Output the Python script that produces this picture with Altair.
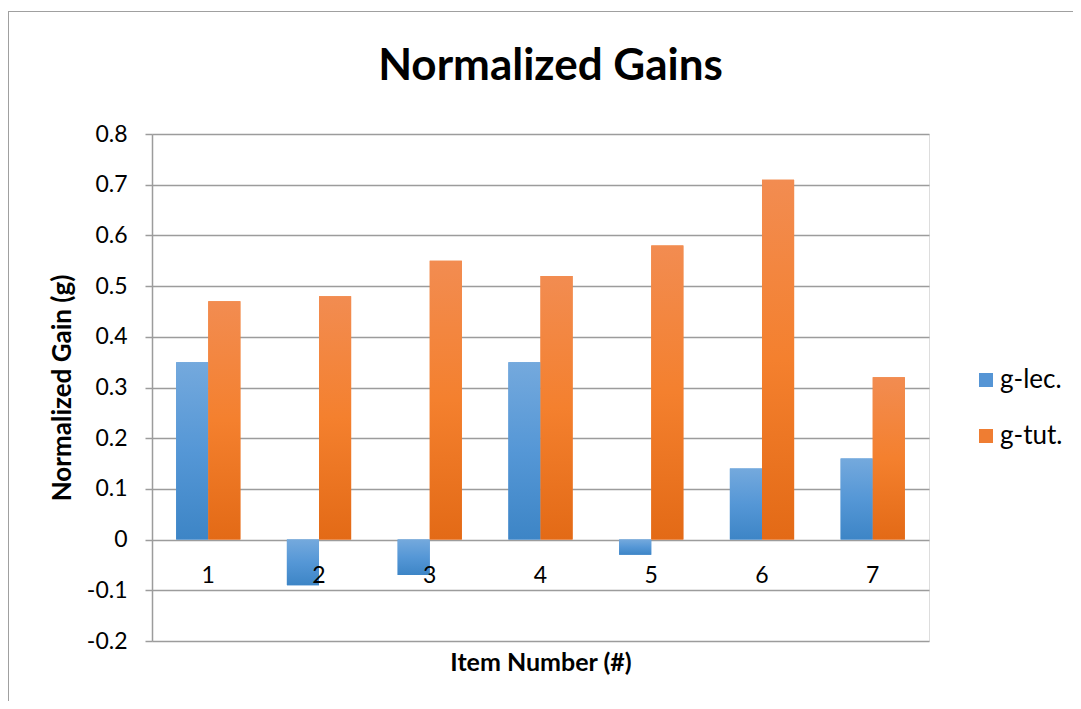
import altair as alt
import pandas as pd

title_text = ["Normalized Gains"]
items = ["1", "2", "3", "4", "5", "6", "7"]
series = ["g-lec.", "g-tut."]
g_lec = [0.35, -0.09, -0.07, 0.35, -0.03, 0.14, 0.16]
g_tut = [0.47, 0.48, 0.55, 0.52, 0.58, 0.71, 0.32]
y_ticks = [-0.2, -0.1, 0.0, 0.1, 0.2, 0.3, 0.4, 0.5, 0.6, 0.7, 0.8]

rows = []
for i, it in enumerate(items):
    rows.append({"item": it, "series": series[0], "value": g_lec[i]})
    rows.append({"item": it, "series": series[1], "value": g_tut[i]})
df = pd.DataFrame(rows)
lab_df = pd.DataFrame({"item": items})
title_df = pd.DataFrame({"t": title_text})

FONT = "Lato"
GRID = "#9c9c9c"

x_enc = alt.X("item:N", sort=items,
              scale=alt.Scale(paddingInner=0.42, paddingOuter=0.218),
              axis=alt.Axis(labels=False, ticks=False, domain=False, grid=False,
                            title="Item Number (#)", titleFont=FONT, titleFontSize=25,
                            titleFontWeight="bold", titleColor="#000000", titlePadding=9))
y_enc = alt.Y("value:Q",
              scale=alt.Scale(domain=[-0.2, 0.8], nice=False, zero=False),
              axis=alt.Axis(values=y_ticks, grid=True, gridColor=GRID, gridWidth=1.5,
                            domainColor=GRID, domainWidth=1.5, tickColor=GRID, tickWidth=1.5,
                            tickSize=7, labelPadding=18, labelFont=FONT, labelFontSize=23,
                            labelColor="#000000",
                            labelExpr="datum.value == 0 ? '0' : replace(format(datum.value, '.1f'), '\u2212', '-')",
                            title="Normalized Gain (g)", titleFont=FONT, titleFontSize=26,
                            titleFontWeight="bold", titleColor="#000000", titlePadding=11))
xo = alt.XOffset("series:N", scale=alt.Scale(domain=series))

base = alt.Chart(df).mark_bar().encode(
    x=x_enc, y=y_enc, xOffset=xo,
    color=alt.Color("series:N", scale=alt.Scale(domain=series, range=["#5595d5", "#ef7d32"]),
                    legend=alt.Legend(title=None, orient="none", legendX=821, legendY=233,
                                      symbolType="square", symbolSize=196, symbolStrokeWidth=0,
                                      labelFont=FONT, labelFontSize=26, labelColor="#000000",
                                      rowPadding=30, labelOffset=1, padding=0)),
)

blue_grad = alt.Gradient(gradient="linear", x1=0, y1=0, x2=0, y2=1,
                         stops=[alt.GradientStop(offset=0, color="#74a9dd"),
                                alt.GradientStop(offset=0.5, color="#5597d6"),
                                alt.GradientStop(offset=1, color="#3d85c6")])
orange_grad = alt.Gradient(gradient="linear", x1=0, y1=0, x2=0, y2=1,
                           stops=[alt.GradientStop(offset=0, color="#f28c51"),
                                  alt.GradientStop(offset=0.5, color="#f4802e"),
                                  alt.GradientStop(offset=1, color="#e36a16")])

lec = alt.Chart(df).transform_filter(alt.datum.series == series[0]).mark_bar(
    fill=blue_grad).encode(x=alt.X("item:N", sort=items), y="value:Q", xOffset="series:N")
tut = alt.Chart(df).transform_filter(alt.datum.series == series[1]).mark_bar(
    fill=orange_grad).encode(x=alt.X("item:N", sort=items), y="value:Q", xOffset="series:N")

labels = alt.Chart(lab_df).mark_text(font=FONT, fontSize=23, color="#000000",
                                     baseline="alphabetic", dy=43).encode(
    x=alt.X("item:N", sort=items), y=alt.datum(0), text="item:N")

title = alt.Chart(title_df).mark_text(font=FONT, fontSize=44, fontWeight="bold",
                                      color="#000000", baseline="alphabetic",
                                      align="center").encode(
    x=alt.value(398.5), y=alt.value(-54), text="t:N")

frame = alt.Chart(lab_df).mark_rect(fill=None, stroke="#a0a0a0", strokeWidth=1,
                                    clip=False).encode(
    x=alt.value(-143.5), x2=alt.value(1000), y=alt.value(-122.5), y2=alt.value(700))

chart = alt.layer(frame, base, lec, tut, labels, title).properties(
    width=777, height=507,
    autosize=alt.AutoSizeParams(type="none"),
    padding={"left": 144, "top": 126, "right": 144, "bottom": 60},
).configure_view(stroke=None).configure(background="white")

chart.save("out.html", embed_options={"renderer": "svg", "actions": False})
